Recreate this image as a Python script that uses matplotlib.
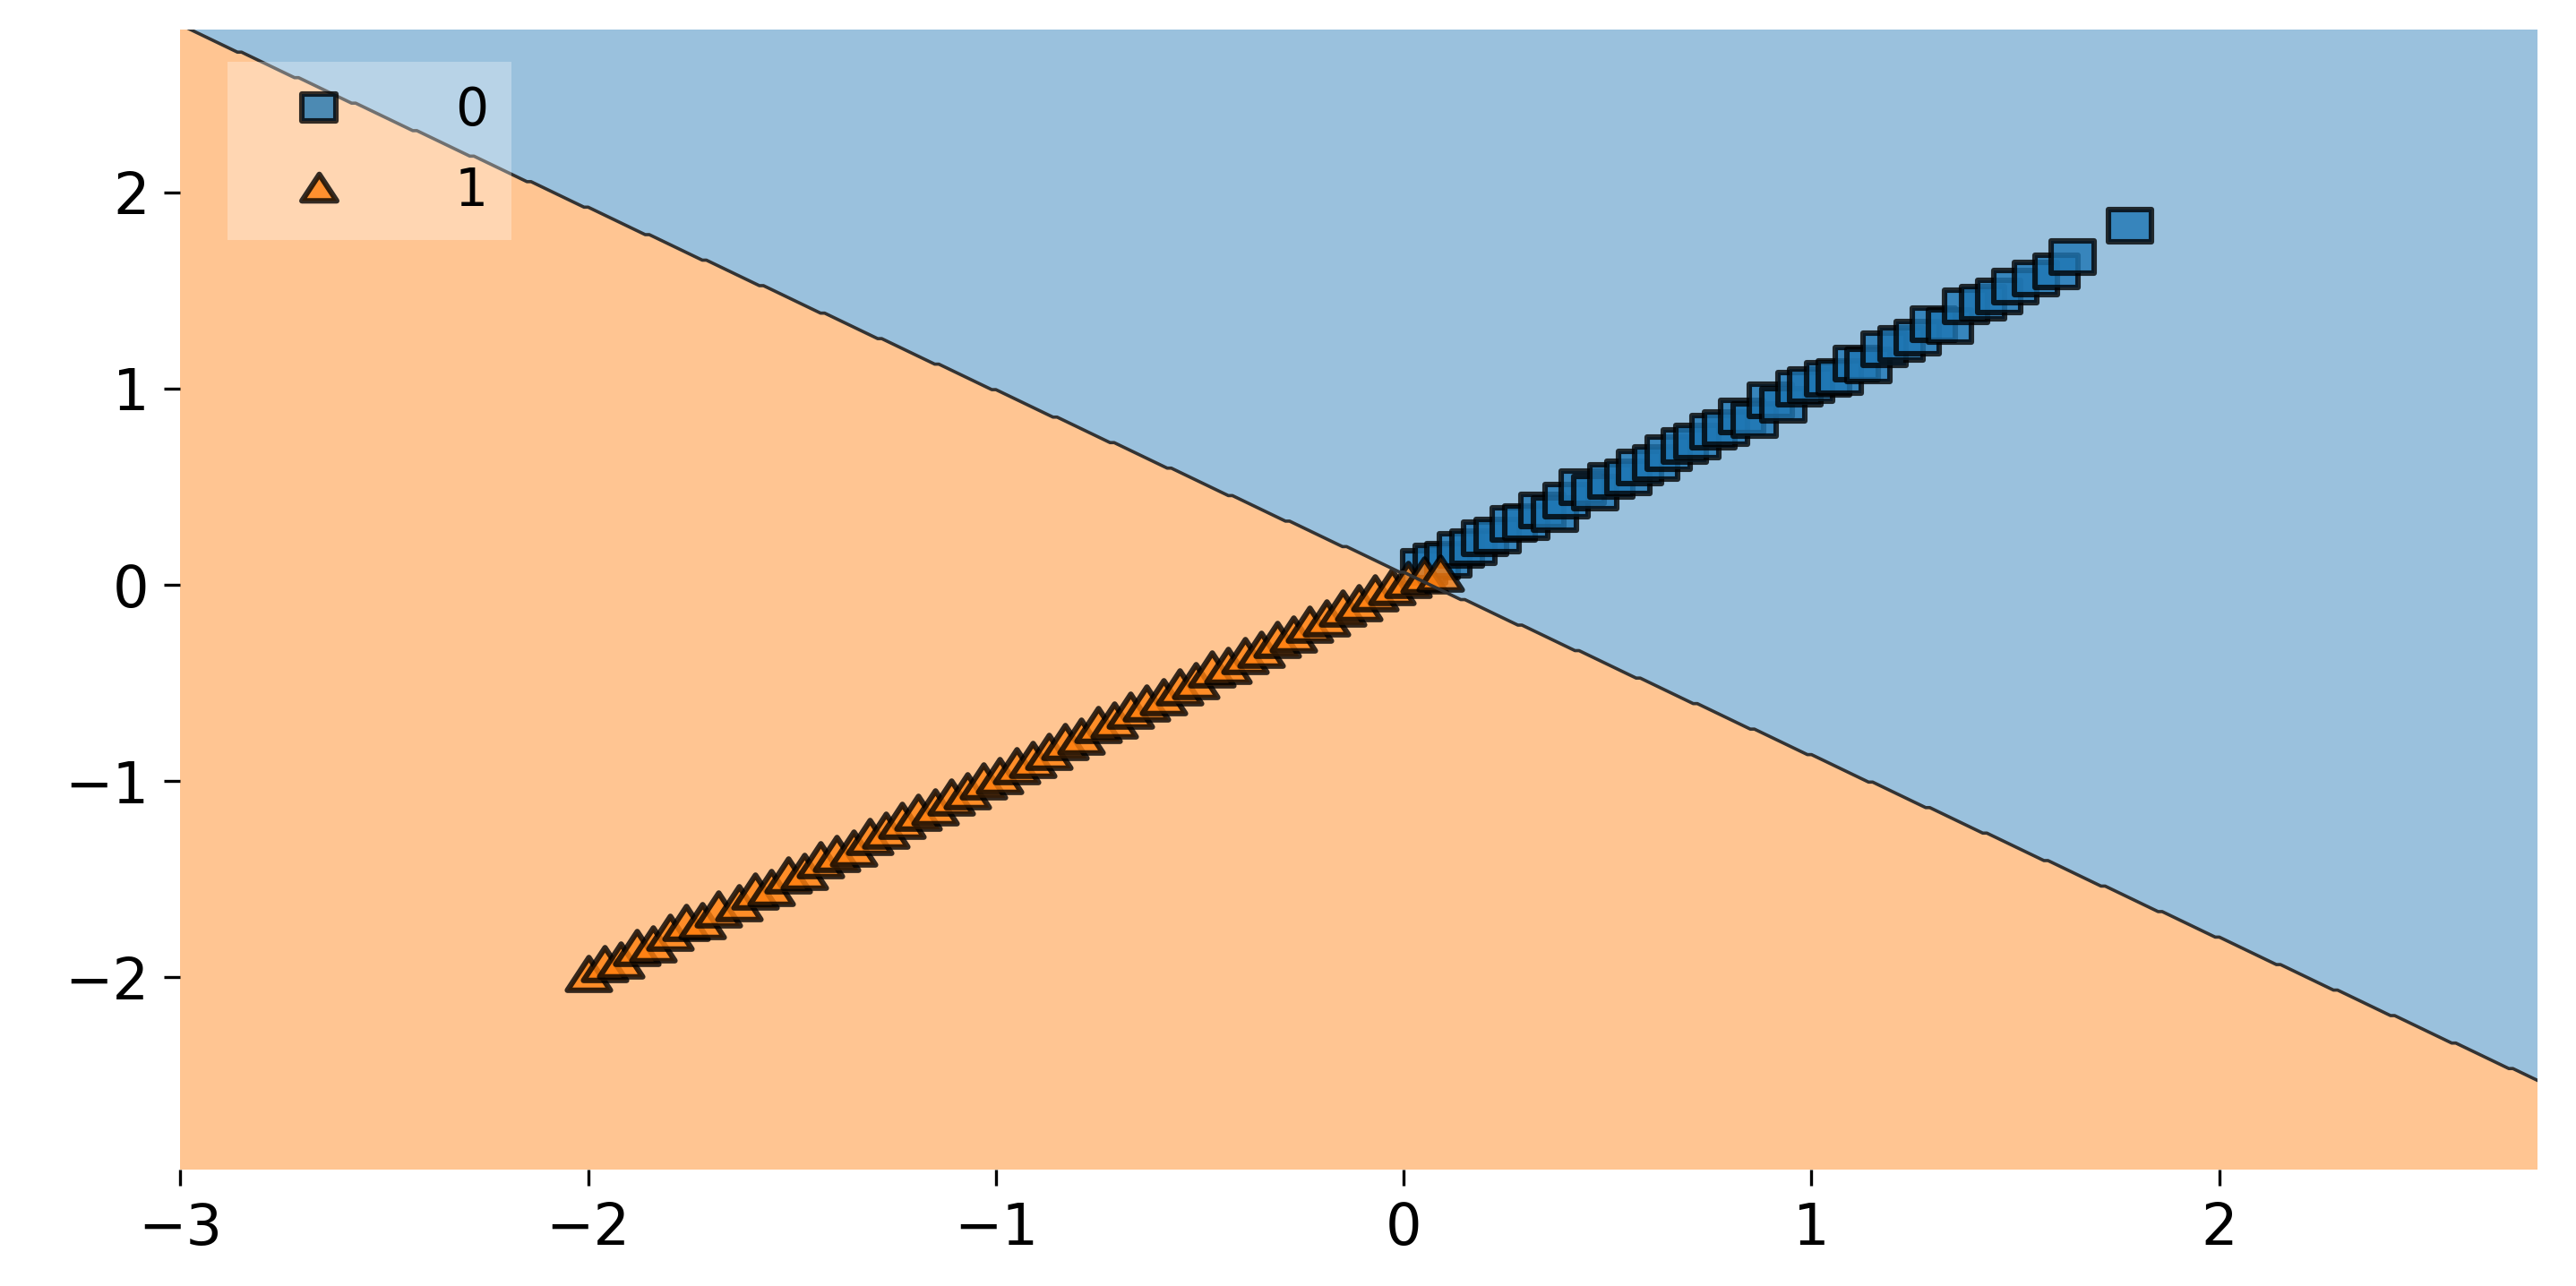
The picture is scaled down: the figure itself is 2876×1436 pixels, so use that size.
import numpy as np
import matplotlib
matplotlib.use('Agg')
import matplotlib.pyplot as plt
from matplotlib.lines import Line2D
from matplotlib.path import Path

# class 0 samples (squares)
class0_x = [0.05, 0.08, 0.11, 0.14, 0.17, 0.2, 0.23, 0.27, 0.3, 0.34, 0.37, 0.4, 0.44, 0.47, 0.51, 0.55,
            0.58, 0.62, 0.65, 0.69, 0.72, 0.76, 0.79, 0.83, 0.86, 0.9, 0.93, 0.97, 1.0, 1.04, 1.07, 1.11,
            1.14, 1.18, 1.22, 1.26, 1.3, 1.34, 1.38, 1.42, 1.46, 1.5, 1.55, 1.6, 1.64, 1.78]
class0_y = [0.09, 0.12, 0.13, 0.18, 0.19, 0.24, 0.25, 0.31, 0.32, 0.38, 0.36, 0.43, 0.5, 0.47, 0.53, 0.55,
            0.6, 0.62, 0.67, 0.71, 0.73, 0.78, 0.8, 0.86, 0.84, 0.94, 0.92, 1.0, 1.02, 1.05, 1.06, 1.13,
            1.12, 1.2, 1.23, 1.26, 1.33, 1.32, 1.42, 1.44, 1.47, 1.52, 1.56, 1.6, 1.67, 1.83]

# class 1 samples (triangles)
class1_x = [-2.0, -1.96, -1.92, -1.88, -1.84, -1.8, -1.76, -1.72, -1.68, -1.63, -1.59, -1.55, -1.51, -1.47,
            -1.43, -1.39, -1.35, -1.31, -1.27, -1.23, -1.19, -1.15, -1.11, -1.07, -1.03, -0.99, -0.95, -0.91,
            -0.87, -0.83, -0.79, -0.75, -0.71, -0.67, -0.63, -0.59, -0.55, -0.51, -0.47, -0.43, -0.39, -0.35,
            -0.31, -0.27, -0.23, -0.19, -0.15, -0.11, -0.07, -0.03, 0.01, 0.05, 0.09]
class1_y = [-1.98, -1.93, -1.91, -1.85, -1.83, -1.77, -1.72, -1.71, -1.65, -1.62, -1.56, -1.54, -1.48, -1.46,
            -1.4, -1.37, -1.34, -1.28, -1.25, -1.2, -1.16, -1.13, -1.08, -1.05, -1.0, -0.97, -0.92, -0.89,
            -0.85, -0.8, -0.77, -0.71, -0.69, -0.64, -0.6, -0.57, -0.52, -0.49, -0.43, -0.41, -0.36, -0.33,
            -0.28, -0.25, -0.2, -0.17, -0.12, -0.09, -0.04, -0.01, 0.03, 0.05, 0.06]

labels = ['0', '1']
colors = ['#1f77b4', '#ff7f0e']

# the picture is stretched sideways, so the markers are a bit wider than tall
sq = Path([(-1, -0.76), (1, -0.76), (1, 0.76), (-1, 0.76), (-1, -0.76)],
          [Path.MOVETO, Path.LINETO, Path.LINETO, Path.LINETO, Path.CLOSEPOLY])
tri = Path([(0, 0.76), (-1, -0.76), (1, -0.76), (0, 0.76)],
           [Path.MOVETO, Path.LINETO, Path.LINETO, Path.CLOSEPOLY])
markers = [sq, tri]

# linear decision boundary: y = intercept + slope * x
intercept = 0.06
slope = -0.93

x_lim = (-3.0, 2.78)
y_lim = (-2.98, 2.83)
x_ticks = [-3, -2, -1, 0, 1, 2]
y_ticks = [-2, -1, 0, 1, 2]

fig = plt.figure(figsize=(14.38, 7.18), dpi=200)
ax = fig.add_axes([0.070, 0.0905, 0.915, 0.8865])

xx, yy = np.meshgrid(np.arange(x_lim[0], x_lim[1] + 0.02, 0.01),
                     np.arange(y_lim[0], y_lim[1] + 0.02, 0.01))
Z = (yy < intercept + slope * xx).astype(int)
levels = np.arange(Z.max() + 2) - 0.5
ax.contourf(xx, yy, Z, levels=levels, colors=colors, alpha=0.45)
ax.contour(xx, yy, Z, levels=levels, colors='#333333', linewidths=1.3, antialiased=True)

data = [(class0_x, class0_y), (class1_x, class1_y)]
for i, (xs, ys) in enumerate(data):
    ax.scatter(xs, ys, s=300, c=colors[i], marker=markers[i], alpha=0.8,
               edgecolor='black', linewidths=2.2, label=labels[i])

ax.set_xlim(*x_lim)
ax.set_ylim(*y_lim)
ax.set_xticks(x_ticks)
ax.set_yticks(y_ticks)
ax.tick_params(labelsize=23, length=6.5, width=1.2, pad=6)
for sp in ax.spines.values():
    sp.set_visible(False)

handles = [Line2D([], [], linestyle='none', marker=markers[i], markersize=14,
                  markerfacecolor=colors[i], markeredgecolor='black', markeredgewidth=2.2, alpha=0.8)
           for i in range(2)]
leg = ax.legend(handles, labels, loc='upper left', bbox_to_anchor=(0.02, 0.972), borderaxespad=0,
                framealpha=0.3, fontsize=21, handlelength=2.6, handletextpad=1.3,
                labelspacing=0.56, borderpad=0.45, edgecolor='none', fancybox=False)

fig.savefig('out.png', dpi=200)
